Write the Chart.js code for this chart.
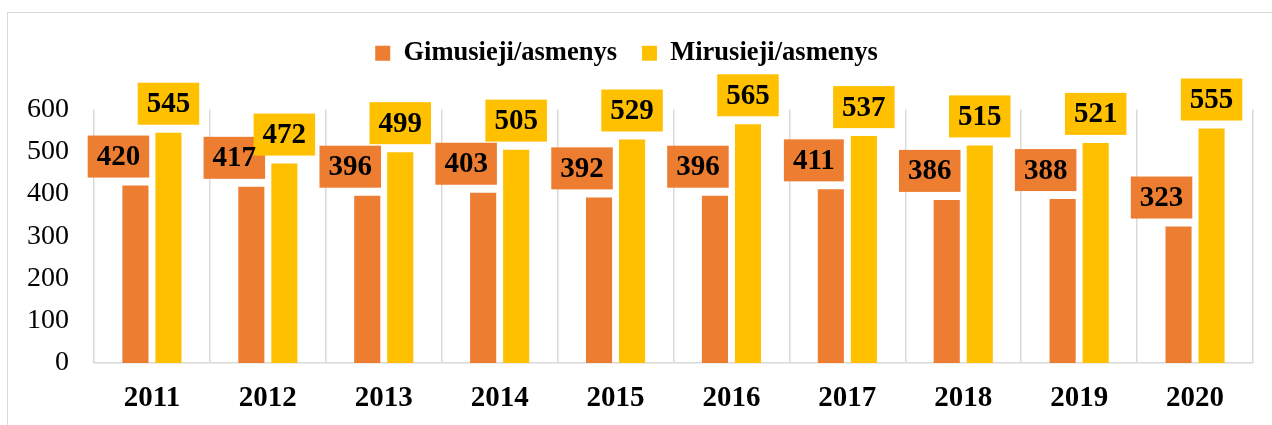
<!DOCTYPE html>
<html>
<head>
<meta charset="utf-8">
<script src="https://cdn.jsdelivr.net/npm/chart.js@4.4.1/dist/chart.umd.min.js"></script>
<style>
  html, body { margin: 0; padding: 0; background: #fff; overflow: hidden; }
  #wrap { position: relative; width: 1272px; height: 425px; }
  #frame { position: absolute; left: 7px; top: 12px; width: 1300px; height: 450px;
           border-left: 1.5px solid #d9d9d9; border-top: 1.5px solid #d9d9d9; box-sizing: border-box; }
  canvas { position: absolute; left: 0; top: 0; }
</style>
</head>
<body>
<div id="wrap">
  <div id="frame"></div>
  <canvas id="c" width="1272" height="425"></canvas>
</div>
<script>
const years = ['2011','2012','2013','2014','2015','2016','2017','2018','2019','2020'];
const gimusieji = [420, 417, 396, 403, 392, 396, 411, 386, 388, 323];
const mirusieji = [545, 472, 499, 505, 529, 565, 537, 515, 521, 555];
const seriesNames = ['Gimusieji/asmenys', 'Mirusieji/asmenys'];
const yTicks = [0, 100, 200, 300, 400, 500, 600];

const ORANGE = '#ED7D31';
const YELLOW = '#FFC000';
const SERIF = "'Liberation Serif', 'Times New Roman', serif";

const legendSpacer = {
  id: 'legendSpacer',
  beforeInit(chart) {
    const orig = chart.legend.fit;
    chart.legend.fit = function () {
      orig.bind(chart.legend)();
      this.height += 33;
    };
  }
};

const boxLabels = {
  id: 'boxLabels',
  afterDatasetsDraw(chart) {
    const ctx = chart.ctx;
    ctx.save();
    ctx.font = 'bold 29px ' + SERIF;
    ctx.textAlign = 'center';
    ctx.textBaseline = 'middle';
    const items = [];
    chart.data.datasets.forEach((ds, di) => {
      const meta = chart.getDatasetMeta(di);
      meta.data.forEach((bar, i) => {
        const txt = String(ds.data[i]);
        const w = ctx.measureText(txt).width + 18;
        const h = 42;
        const cx = bar.x + (di === 0 ? -17 : 0);
        const bottom = bar.y - 8;
        items.push({ txt, w, h, cx, bottom, color: ds.backgroundColor });
      });
    });
    items.forEach(it => {
      ctx.fillStyle = it.color;
      ctx.fillRect(it.cx - it.w / 2, it.bottom - it.h, it.w, it.h);
    });
    ctx.fillStyle = '#000';
    items.forEach(it => {
      ctx.fillText(it.txt, it.cx, it.bottom - it.h / 2 + 1);
    });
    ctx.restore();
  }
};

new Chart(document.getElementById('c'), {
  type: 'bar',
  data: {
    labels: years,
    datasets: [
      { label: seriesNames[0], data: gimusieji, backgroundColor: ORANGE,
        categoryPercentage: 0.57, barPercentage: 0.79 },
      { label: seriesNames[1], data: mirusieji, backgroundColor: YELLOW,
        categoryPercentage: 0.57, barPercentage: 0.79 }
    ]
  },
  options: {
    responsive: false,
    animation: false,
    devicePixelRatio: 1,
    layout: { padding: { top: 15, left: 0, right: 19, bottom: 10 } },
    plugins: {
      legend: {
        position: 'top',
        align: 'center',
        labels: {
          boxWidth: 15, boxHeight: 15, padding: 25,
          color: '#000',
          font: { family: SERIF, size: 26.5, weight: 'bold' }
        }
      },
      tooltip: { enabled: false }
    },
    scales: {
      x: {
        offset: true,
        afterFit(scale) { scale.height = 52; },
        grid: { display: true, offset: true, color: '#d9d9d9', lineWidth: 1.5, drawTicks: false },
        border: { display: true, color: '#d9d9d9', width: 1.5 },
        ticks: { color: '#000', padding: 18, font: { family: SERIF, size: 29, weight: 'bold' } }
      },
      y: {
        min: 0, max: 600,
        afterBuildTicks(scale) { scale.ticks = yTicks.map(v => ({ value: v })); },
        afterFit(scale) { scale.width = 94; },
        grid: { display: false, drawTicks: false },
        border: { display: false },
        ticks: { color: '#000', padding: 25, font: { family: SERIF, size: 28 } }
      }
    }
  },
  plugins: [legendSpacer, boxLabels]
});
</script>
</body>
</html>
